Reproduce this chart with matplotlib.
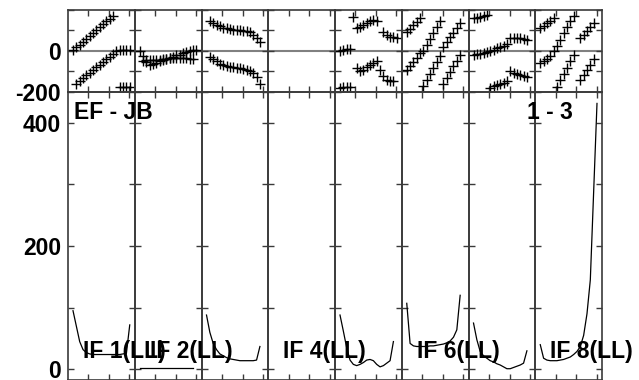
import matplotlib
matplotlib.use('Agg')
import matplotlib.pyplot as plt
import numpy as np

plt.rcParams['font.family'] = ['Liberation Sans', 'DejaVu Sans']
plt.rcParams['font.weight'] = 'bold'

nan = np.nan
channels = list(range(2, 20))  # channels 2..19

if_labels = ["IF 1(LL)", "IF 2(LL)", "", "IF 4(LL)", "", "IF 6(LL)", "", "IF 8(LL)"]
baseline_label = "EF - JB"
scan_label = "1 - 3"

# phase (degrees), two series per IF, channels 2..19
phase_a = [
    [3, 17, 31, 45, 59, 73, 87, 101, 116, 130, 144, 158, 172, nan, -179, -178, -177, -176],
    [-3, -25, -55, -68, -66, -60, -52, -46, -40, -34, -28, -22, -18, -12, -6, 0, 4, 5],
    [nan, 147, 136, 127, 120, 114, 110, 107, 104, 102, 100, 98, 95, 90, 80, 63, 45, nan],
    [nan] * 18,
    [0, 5, 7, 8, nan, -82, -100, -92, -80, -68, -58, -50, -93, -125, -142, -147, -148, nan],
    [90, 108, 125, 142, 160, -172, -143, -113, -83, -53, -23, 20, 43, 66, 89, 112, 135, nan],
    [160, 163, 166, 170, 174, -180, -174, -168, -162, -155, -148, -98, -108, -115, -118, -121, -126, nan],
    [112, 124, 136, 148, 160, -175, -144, -113, -82, -51, -20, nan, 62, 80, 98, 117, 136, nan],
]
phase_b = [
    [nan, -160, -147, -134, -120, -107, -94, -81, -68, -55, -41, -28, -15, -2, 3, 5, 6, 5],
    [nan, -48, -47, -46, -45, -44, -43, -41, -39, -37, -35, -34, -33, -34, -36, -38, -40, nan],
    [nan, -28, -40, -52, -62, -69, -74, -78, -81, -84, -86, -89, -92, -97, -108, -130, -160, nan],
    [nan] * 18,
    [-180, -178, -176, -175, 164, 112, 118, 125, 136, 148, 152, 147, nan, 90, 79, 67, 66, 65],
    [-93, -73, -53, -33, -12, 0, 29, 58, 87, 116, 144, -160, -132, -104, -76, -48, -20, nan],
    [-20, -17, -13, -10, -5, 0, 5, 13, 20, 25, 33, 62, 64, 65, 65, 60, 55, nan],
    [-60, -50, -38, -25, -3, 25, 55, 85, 115, 145, 172, nan, -142, -120, -95, -68, -40, nan],
]
# amplitude, channels 2..19
amplitude = [
    [95, 70, 45, 32, 27, 25, 24, 24, 24, 24, 24, 24, 24, 24, 24, 25, 26, 72],
    [1.5] * 17 + [nan],
    [88, 60, 42, 32, 25, 22, 19, 17, 16, 15, 14, 14, 14, 14, 14, 15, 37, nan],
    [nan] * 18,
    [88, 62, 35, 15, 8, 6, 8, 11, 15, 16, 14, 8, 4, 6, 10, 14, 45, nan],
    [107, 42, 38, 37, 37, 37, 37, 38, 38, 39, 40, 41, 43, 46, 52, 64, 120, nan],
    [75, 48, 29, 22, 18, 14, 12, 9, 7, 4, 1, 1, 3, 5, 7, 10, 30, nan],
    [40, 18, 15, 14, 14, 14, 15, 16, 18, 20, 24, 29, 37, 55, 90, 145, 288, 431],
]

W, H = 639, 380
fig = plt.figure(figsize=(W / 100, H / 100), dpi=100)
left_px, right_px = 68, 602
pw = (right_px - left_px) / 8
top_px, split_px = 10, 91.7

spine_col = '#3a3a3a'
fs = 16.5

for i in range(8):
    x0 = (left_px + i * pw) / W
    axp = fig.add_axes([x0, (H - split_px) / H, pw / W, (split_px - top_px) / H])
    axa = fig.add_axes([x0, 0, pw / W, (H - split_px) / H])

    axp.plot(channels, phase_a[i], linestyle='none', marker='+', ms=7, mew=1.0, color='black')
    axp.plot(channels, phase_b[i], linestyle='none', marker='+', ms=7, mew=1.0, color='black')
    axp.axhline(0, color='#808080', lw=1.5, zorder=0)
    axp.set_ylim(-200, 200)
    axp.set_yticks([-200, -100, 0, 100, 200])

    axa.plot(channels, amplitude[i], color='black', lw=0.9)
    axa.set_ylim(-17.3, 450)
    axa.set_yticks([0, 100, 200, 300, 400])

    for ax in (axp, axa):
        ax.set_xlim(0.5, 20.5)
        ax.set_xticks([6.6, 12.8, 18.9])
        ax.set_xticklabels([])
        ax.tick_params(axis='both', direction='in', length=4.5, width=1.0, color=spine_col,
                       top=True, bottom=True, left=True, right=True, labelsize=fs, pad=5)
        for s in ax.spines.values():
            s.set_color(spine_col)
            s.set_linewidth(1.2)
        ax.set_facecolor('none')

    if i == 0:
        axp.set_yticklabels(['-200', '', '0', '', ''], fontsize=fs, fontweight='bold')
        axa.set_yticklabels(['0', '', '200', '', '400'], fontsize=fs, fontweight='bold')
    else:
        axp.set_yticklabels([])
        axa.set_yticklabels([])

    if if_labels[i]:
        fig.text((left_px + i * pw + 15) / W, (H - 358) / H, if_labels[i],
                 fontsize=fs, fontweight='bold', ha='left', va='baseline')

fig.text(74 / W, (H - 119) / H, baseline_label, fontsize=fs, fontweight='bold',
         ha='left', va='baseline')
fig.text(573 / W, (H - 119) / H, scan_label, fontsize=fs, fontweight='bold',
         ha='right', va='baseline')

fig.savefig('out.png', dpi=100)
